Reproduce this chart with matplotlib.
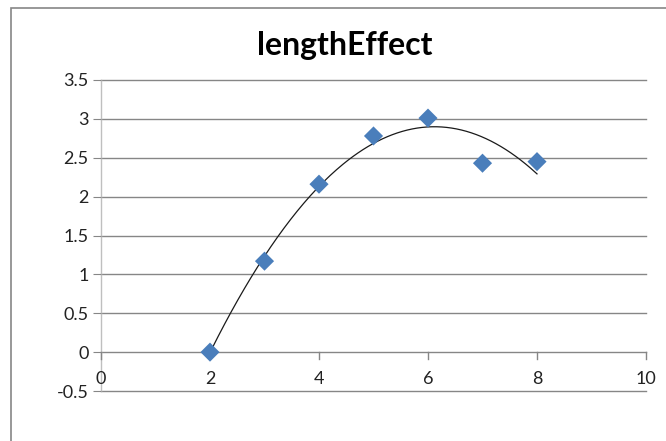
import numpy as np
import matplotlib.pyplot as plt
from matplotlib.patches import Rectangle

# data
lengths = [2, 3, 4, 5, 6, 7, 8]
effect = [0.0, 1.17, 2.16, 2.78, 3.01, 2.43, 2.45]
x_ticks = [0, 2, 4, 6, 8, 10]
y_ticks = [-0.5, 0, 0.5, 1, 1.5, 2, 2.5, 3, 3.5]

plt.rcParams['font.family'] = ['Lato', 'DejaVu Sans']

W, H = 666, 441
fig = plt.figure(figsize=(W / 100, H / 100), dpi=100)

# chart area border (only left and top visible)
fig.add_artist(Rectangle((11 / W, -0.1), 1.2, (H - 8) / H + 0.1, transform=fig.transFigure,
                         fill=False, edgecolor='#868686', linewidth=1.2))

# plot area: x 0..10 -> px 101..646, y -0.5..3.5 -> px 391..80
ax = fig.add_axes([101 / W, (H - 391) / H, (646 - 101) / W, (391 - 80) / H])
ax.set_xlim(0, 10)
ax.set_ylim(-0.5, 3.5)

for s in ax.spines.values():
    s.set_visible(False)

# horizontal gridlines (including the axis line at 0)
for y in y_ticks:
    ax.plot([0, 10], [y, y], color='#868686', linewidth=1, zorder=1, clip_on=False)
ax.plot([0, 0], [-0.5, 3.5], color='#bfbfbf', linewidth=1, zorder=1, clip_on=False)

# x ticks hanging from the y=0 axis
for xt in x_ticks:
    ax.plot([xt, xt], [0, -0.09], color='#868686', linewidth=1, zorder=1, clip_on=False)
    ax.text(xt, -0.35, str(xt), ha='center', va='center', fontsize=13, color='#222222')

ax.set_xticks([])
ax.set_yticks(y_ticks)
ax.set_yticklabels([f'{v:g}' for v in y_ticks], fontsize=13, color='#222222')
ax.tick_params(axis='y', length=6, color='#868686', pad=3)

# polynomial (order 2) trendline
coef = np.polyfit(lengths, effect, 2)
xs = np.linspace(min(lengths), max(lengths), 200)
ax.plot(xs, np.polyval(coef, xs), color='#1a1a1a', linewidth=0.9, zorder=3)

ax.scatter(lengths, effect, marker='D', s=95, color='#4a7ebb', edgecolors='none', zorder=4, clip_on=False)

fig.text(345 / W, 1 - 46 / H, 'lengthEffect', ha='center', va='center', fontsize=23,
         fontweight='bold', color='#000000')

fig.savefig('out.png', dpi=100, facecolor='white')
